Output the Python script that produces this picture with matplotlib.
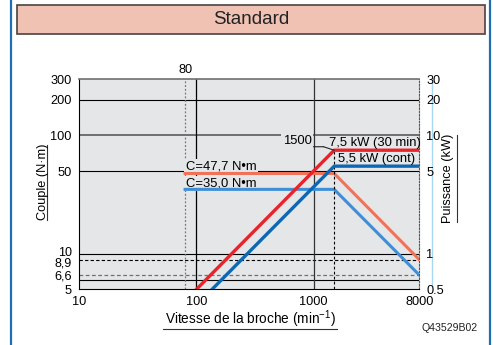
import matplotlib
matplotlib.use("Agg")
import matplotlib.pyplot as plt
from matplotlib.lines import Line2D
from matplotlib.patches import Rectangle
from matplotlib.transforms import offset_copy

plt.rcParams["font.family"] = ["Liberation Sans", "DejaVu Sans"]
plt.rcParams["mathtext.fontset"] = "custom"
plt.rcParams["mathtext.rm"] = "Liberation Sans"
plt.rcParams["mathtext.it"] = "Liberation Sans:italic"

# torque curves (N·m) vs spindle speed (min-1)
speed_torque = [80, 1500, 8000]
torque_30min = [47.7, 47.7, 8.9]
torque_cont = [35.0, 35.0, 6.6]

# power curves (kW)
speed_p30 = [100, 1500, 8000]
power_30min = [0.5, 7.5, 7.5]
speed_pcont = [136, 1500, 8000]
power_cont = [0.5, 5.5, 5.5]

x_ticks = [10, 100, 1000, 8000]
x_labels = ["10", "100", "1000", "8000"]
torque_ticks = [5, 6.6, 50, 100, 200, 300]
torque_labels = ["5", "6,6", "50", "100", "200", "300"]
# packed labels, drawn separately so they can be spaced a touch apart
tight_ticks = [8.9, 10]
tight_labels = ["8,9", "10"]
tight_shift = [-1.3, 1.3]
power_ticks = [0.5, 1, 5, 10, 20, 30]
power_labels = ["0.5", "1", "5", "10", "20", "30"]

BG = "#e5e6e8"
RED = "#e8232b"
ORANGE = "#f07358"
BLUE_P = "#0d68b3"
BLUE_T = "#3f8fd8"

fig = plt.figure(figsize=(4.93, 3.45), dpi=100)
ax = fig.add_axes([0.1609, 0.1614, 0.6897, 0.6096])
ax.set_facecolor(BG)
ax.set_xscale("log")
ax.set_yscale("log")
ax.set_xlim(10, 8000)
ax.set_ylim(5, 300)

ax2 = ax.twinx()
ax2.set_yscale("log")
ax2.set_ylim(0.5, 30)
ax2.patch.set_visible(False)
for s in ax2.spines.values():
    s.set_visible(False)

# grid
for v in [6, 10, 50, 200]:
    ax.axhline(v, color="black", lw=0.8, zorder=1)
ax.axhline(100, color="#6f6f6f", lw=1.4, zorder=1)
ax.axhline(8.9, color="black", lw=0.8, ls=(0, (3, 2)), zorder=1)
ax.axhline(6.6, color="#707070", lw=0.9, ls=(0, (3, 2)), zorder=1)
ax.axvline(100, color="black", lw=0.9, zorder=1)
ax.axvline(1000, color="#333333", lw=0.9, zorder=1)
ax.axvline(80, color="#777777", lw=0.9, ls=(0, (1.5, 1.5)), zorder=1)
ax2.vlines(1500, 0.5, 7.5, color="black", lw=0.8, ls=(0, (2.5, 2)), zorder=1)

# curves
ax.plot(speed_torque, torque_30min, color=ORANGE, lw=2.2, zorder=3)
ax.plot(speed_torque, torque_cont, color=BLUE_T, lw=2.2, zorder=3)
ax2.plot(speed_p30, power_30min, color=RED, lw=2.4, zorder=3)
ax2.plot(speed_pcont, power_cont, color=BLUE_P, lw=2.4, zorder=3)

# ticks
ax.set_xticks(x_ticks)
ax.set_xticklabels(x_labels)
ax.set_yticks(torque_ticks)
ax.set_yticklabels(torque_labels)
ax.minorticks_off()
ax2.set_yticks(power_ticks)
ax2.set_yticklabels(power_labels)
ax2.minorticks_off()
ax.tick_params(axis="x", length=0, pad=5, labelsize=9.2)
ax.tick_params(axis="y", length=0, pad=5.4, labelsize=9.2)
ax2.tick_params(axis="y", length=0, pad=5, labelsize=9.2)

for v, s, dy in zip(tight_ticks, tight_labels, tight_shift):
    ax.annotate(s, xy=(0, v), xycoords=ax.get_yaxis_transform(), xytext=(-5.4, dy),
                textcoords="offset points", ha="right", va="center_baseline", fontsize=9.0)

ax.spines["left"].set_color("black")
ax.spines["bottom"].set_color("black")
ax.spines["top"].set_color("#6f6f6f")
ax.spines["top"].set_linewidth(1.2)
ax.spines["right"].set_color("#555555")
ax.spines["right"].set_linestyle((0, (1.5, 1.5)))

# annotations
lbl = dict(fontsize=9.4, ha="left", va="baseline", textcoords="offset points")
box = dict(boxstyle="square,pad=0.12", fc=BG, ec="none")
ax.annotate("C=47,7 N\u2022m", xy=(80, 47.7), xytext=(0.5, 3), bbox=box, zorder=2, **lbl)
ax.annotate("C=35,0 N\u2022m", xy=(80, 35.0), xytext=(0.5, 2.2), bbox=box, zorder=2, **lbl)
ax2.annotate("7,5 kW (30 min)", xy=(1500, 7.5), xytext=(-3.5, 3.2), zorder=4, **lbl)
ax2.annotate("5,5 kW (cont)", xy=(1500, 5.5), xytext=(3, 3.2), zorder=4, **lbl)

# 1500 leader
ax2.annotate("", xy=(1500, 7.5), xytext=(-7.7, 2.5), textcoords="offset points",
             arrowprops=dict(arrowstyle="-", lw=0.8, color="#222222", shrinkA=0, shrinkB=0))
p_tr = offset_copy(ax2.transData, fig=fig, x=-7.7, y=2.5, units="points")
ax2.annotate("", xy=(1500, 7.5), xycoords=p_tr, xytext=(-29.5, 0), textcoords="offset points",
             arrowprops=dict(arrowstyle="-", lw=0.8, color="#222222", shrinkA=0, shrinkB=0))
ax2.annotate("1500", xy=(1500, 7.5), xytext=(-37.2, 4.2), textcoords="offset points",
             fontsize=9.4, ha="left", va="baseline",
             bbox=dict(boxstyle="square,pad=0.1", fc=BG, ec="none"))

ax.annotate("80", xy=(80, 1), xycoords=ax.get_xaxis_transform(), xytext=(0, 2),
            textcoords="offset points", ha="center", va="bottom", fontsize=9.2)

# axis labels with underlines
fig.text(0.0866, 0.4725, "Couple (N\u00b7m)", rotation=90, ha="center", va="center", fontsize=9.2)
fig.add_artist(Line2D([0.0959, 0.0959], [0.3623, 0.5797], color="#333333", lw=0.8))
fig.text(0.9093, 0.4841, "Puissance (kW)", rotation=90, ha="center", va="center", fontsize=9.2)
fig.add_artist(Line2D([0.9264, 0.9264], [0.3565, 0.6087], color="#333333", lw=0.8))
fig.text(0.5071, 0.0754, "Vitesse de la broche (min$^{-1}$)", ha="center", va="center", fontsize=9.8)
fig.add_artist(Line2D([0.3306, 0.6836], [0.0464, 0.0464], color="#333333", lw=0.8))
fig.text(0.9128, 0.0493, "Q43529B02", ha="center", va="center", fontsize=7.6, color="#222222")

# right axis light-blue rule
fig.add_artist(Line2D([0.8763, 0.8763], [0.172, 0.771], color="#a9d9f2", lw=1.0, zorder=0))

# title banner
fig.add_artist(Rectangle((0.0345, 0.9014), 0.9493, 0.0841, transform=fig.transFigure,
                         fc="#efc2b3", ec="#4a4242", lw=1.2))
fig.text(0.509, 0.9435, "Standard", ha="center", va="center", fontsize=13.5, color="#222222")

# outer frame
fig.add_artist(Line2D([0.0223, 0.0223], [0, 1], color="#1f6db3", lw=1.6))
fig.add_artist(Line2D([0.9939, 0.9939], [0, 1], color="#1f6db3", lw=1.6))

fig.savefig("out.png", dpi=100)
